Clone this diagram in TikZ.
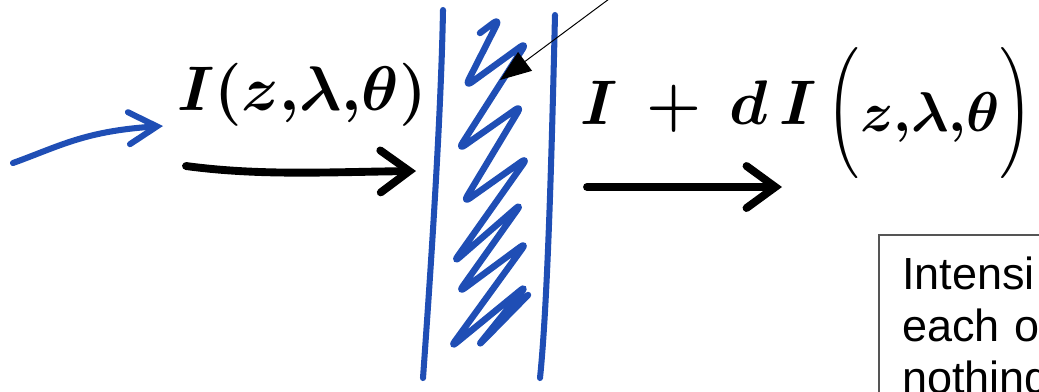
\documentclass[tikz,border=0pt]{standalone}
\usepackage{amsmath}
\usepackage{graphicx}
\usepackage{fontspec}
\setsansfont{Liberation Sans}
\usetikzlibrary{arrows.meta}
\definecolor{penBlue}{HTML}{1F4EB5}
\definecolor{boxGrey}{HTML}{555555}
\newcommand{\tallparen}[1]{\scalebox{1}[1.3]{$\Big#1$}}
\tikzset{
  pen/.style       = {line cap=round, line join=round},
  beam/.style      = {pen, black, line width=5.6pt,
                      -{Straight Barb[length=0.72cm, width=1.05cm, line cap=round]}},
  inbeam/.style    = {pen, penBlue, line width=4.3pt,
                      -{Straight Barb[length=0.7cm, width=0.8cm, line cap=round]}},
  slab/.style      = {pen, penBlue, line width=4.3pt},
  scribble/.style  = {pen, penBlue, line width=4.6pt, rounded corners=6pt},
  pointer/.style   = {black, line width=0.7pt, -{Triangle[length=0.78cm, width=0.58cm]}},
  hand/.style      = {font=\fontsize{24.88}{30}\selectfont\boldmath, inner sep=0pt,
                      scale=1.8, transform shape},
  notebox/.style   = {draw=boxGrey, line width=0.9pt, outer sep=0pt,
                      font=\sffamily\fontsize{32}{37}\selectfont,
                      text width=9cm, align=left, inner xsep=0.575cm, inner ysep=0.55cm},
}

\begin{document}
\begin{tikzpicture}[x=0.025cm, y=-0.025cm]
  \useasboundingbox (0,0) rectangle (1039,391);
  \clip (0,0) rectangle (1039,391);
  % incoming ray
  \coordinate (inTail) at (13,163);
  \coordinate (inTip) at (163,126);
  \draw[inbeam] (inTail) .. controls (60,146) and (85,131) .. (inTip);
  % the layer dz
  \draw[slab] (443,10) .. controls (441,120) and (430,280) .. (423,378);
  \draw[slab] (555,15) .. controls (552,140) and (548,300) .. (540,378);
  \draw[scribble] (480,33) -- (500,18) -- (465,87) -- (527,42) -- (458,150) -- (522,105)
    -- (463,203) -- (528,157) -- (453,263) -- (522,203) -- (458,293) -- (527,242)
    -- (450,348) -- (527,285) -- (477,347) -- (528,295);
  % intensities on either side
  \node[hand] (inLbl) at (302,95) {$I(z{,}\lambda{,}\theta)$};
  \coordinate (inStart) at (186,166);
  \coordinate (inEnd) at (416,171);
  \draw[beam] (inStart) .. controls (260,176) and (330,172) .. (inEnd);
  \node[hand] (outLbl) at (699,107) {$I\,+\,d\,I$};
  \node[hand, scale=1.6/1.8] (outArgs) at (930,113)
    {$\tallparen(z{,}\lambda{,}\theta\tallparen)$};
  \coordinate (outStart) at (587,187);
  \coordinate (outEnd) at (782,187);
  \draw[beam] (outStart) -- (outEnd);
  % pointer into the layer
  \coordinate (ptrTail) at (640,-24);
  \coordinate (ptrTip) at (500,80);
  \draw[pointer] (ptrTail) -- (ptrTip);
  % note
  \node[notebox, anchor=north west] (note) at (879,235) {Intensi\\each o\\nothing};
\end{tikzpicture}
\end{document}
